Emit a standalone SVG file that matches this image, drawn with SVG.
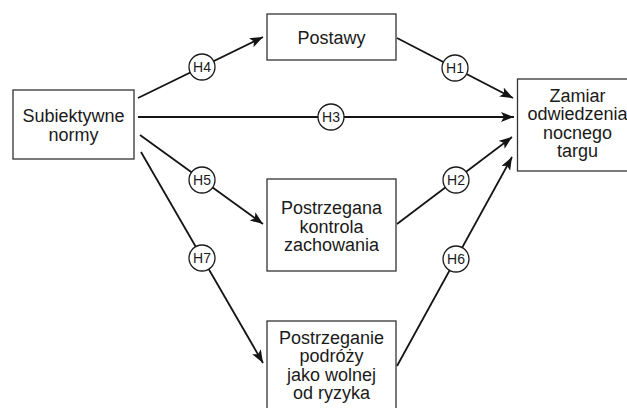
<svg xmlns="http://www.w3.org/2000/svg" width="627" height="408" viewBox="0 0 627 408">
  <style>
    .box { fill: #ffffff; stroke: #333333; stroke-width: 1.3; }
    .lbl { font-family: "Liberation Sans", Arial, sans-serif; font-size: 18px; fill: #1a1a1a; text-anchor: middle; }
    .edge { stroke: #141414; stroke-width: 1.8; fill: none; marker-end: url(#arrow); }
    .tag { fill: #ffffff; stroke: #1a1a1a; stroke-width: 1.3; }
    .tagtxt { font-family: "Liberation Sans", Arial, sans-serif; font-size: 14px; fill: #1a1a1a; text-anchor: middle; }
  </style>
  <defs>
    <marker id="arrow" markerUnits="userSpaceOnUse" markerWidth="14" markerHeight="10" viewBox="0 0 14 10" refX="13" refY="5" orient="auto">
      <path d="M0,0 L13,5 L0,10 L3,5 Z" fill="#141414"/>
    </marker>
  </defs>
  <rect width="627" height="408" fill="#ffffff"/>

  <!-- connectors with hypothesis tags -->
  <g id="connectors">
    <g id="e-h4">
      <line class="edge" x1="138" y1="98" x2="263" y2="37"/>
      <circle class="tag" cx="202" cy="67" r="13"/>
      <text class="tagtxt" x="202" y="72">H4</text>
    </g>
    <g id="e-h3">
      <line class="edge" x1="138" y1="117" x2="514" y2="117"/>
      <circle class="tag" cx="331" cy="117" r="13"/>
      <text class="tagtxt" x="331" y="122">H3</text>
    </g>
    <g id="e-h1">
      <line class="edge" x1="397" y1="38" x2="513" y2="98"/>
      <circle class="tag" cx="455" cy="68" r="13"/>
      <text class="tagtxt" x="455" y="73">H1</text>
    </g>
    <g id="e-h5">
      <line class="edge" x1="140" y1="135" x2="263" y2="224"/>
      <circle class="tag" cx="202" cy="180" r="13"/>
      <text class="tagtxt" x="202" y="185">H5</text>
    </g>
    <g id="e-h2">
      <line class="edge" x1="397" y1="224" x2="512" y2="137"/>
      <circle class="tag" cx="456" cy="180" r="13"/>
      <text class="tagtxt" x="456" y="185">H2</text>
    </g>
    <g id="e-h7">
      <line class="edge" x1="141" y1="152" x2="263" y2="363"/>
      <circle class="tag" cx="202" cy="258" r="13"/>
      <text class="tagtxt" x="202" y="263">H7</text>
    </g>
    <g id="e-h6">
      <line class="edge" x1="397" y1="366" x2="512" y2="157"/>
      <circle class="tag" cx="456" cy="259" r="13"/>
      <text class="tagtxt" x="456" y="264">H6</text>
    </g>
  </g>

  <g id="subiektywne-normy">
    <rect class="box" x="13" y="90" width="121" height="69"/>
    <text class="lbl" x="73.5" y="121.5">Subiektywne</text>
    <text class="lbl" x="73.5" y="141">normy</text>
  </g>

  <g id="postawy">
    <rect class="box" x="267" y="14" width="129" height="46"/>
    <text class="lbl" x="331.5" y="43.5">Postawy</text>
  </g>

  <g id="kontrola">
    <rect class="box" x="267" y="179" width="129" height="92"/>
    <text class="lbl" x="331.5" y="214">Postrzegana</text>
    <text class="lbl" x="331.5" y="232.5">kontrola</text>
    <text class="lbl" x="331.5" y="251">zachowania</text>
  </g>

  <g id="ryzyko">
    <rect class="box" x="267" y="321" width="129" height="100"/>
    <text class="lbl" x="331.5" y="343.5">Postrzeganie</text>
    <text class="lbl" x="331.5" y="362">podróży</text>
    <text class="lbl" x="331.5" y="380.5">jako wolnej</text>
    <text class="lbl" x="331.5" y="399">od ryzyka</text>
  </g>

  <g id="zamiar">
    <rect class="box" x="517.5" y="79" width="120" height="92"/>
    <text class="lbl" x="577.5" y="101.5">Zamiar</text>
    <text class="lbl" x="577.5" y="120">odwiedzenia</text>
    <text class="lbl" x="577.5" y="138.5">nocnego</text>
    <text class="lbl" x="577.5" y="157">targu</text>
  </g>
</svg>
